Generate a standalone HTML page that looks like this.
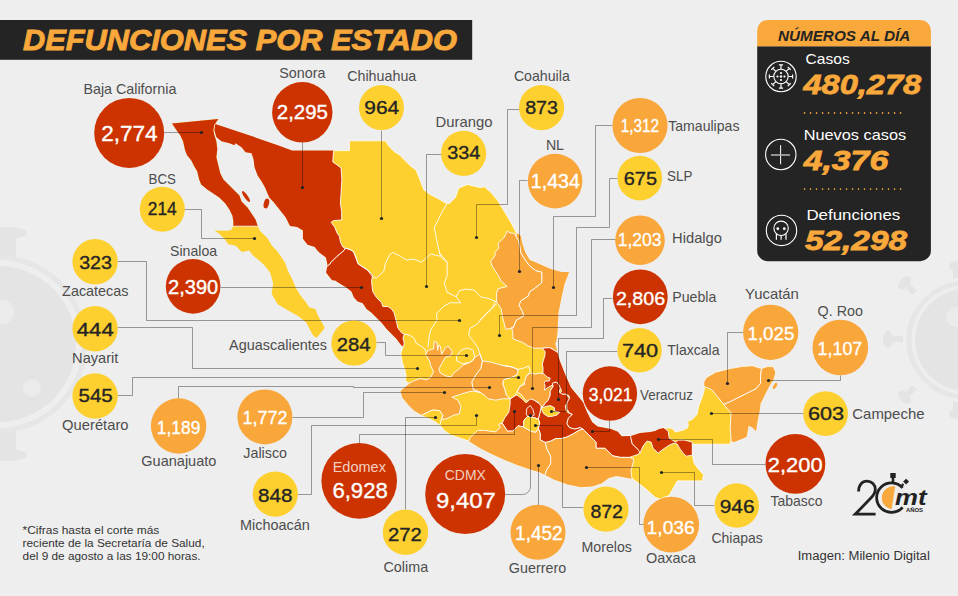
<!DOCTYPE html><html><head><meta charset="utf-8"><style>
html,body{margin:0;padding:0;background:#eeeeee;}
svg{display:block;font-family:"Liberation Sans",sans-serif;}
</style></head><body>
<svg width="958" height="596" viewBox="0 0 958 596">
<rect width="958" height="596" fill="#eeeeee"/>
<g fill="#e4e4e4" stroke="none">
<circle cx="-2" cy="344" r="78"/>
<rect x="0" y="236" width="16" height="22"/>
<ellipse cx="8" cy="233" rx="19" ry="6"/>
<rect x="0" y="430" width="16" height="22"/>
<ellipse cx="8" cy="455" rx="19" ry="6"/>
<circle cx="966" cy="340" r="51"/>
<ellipse cx="888" cy="339" rx="5" ry="9"/>
<rect x="888" y="336" width="15" height="6"/>
<g transform="rotate(45 911 289)"><ellipse cx="902" cy="289" rx="5" ry="8"/><rect x="902" y="286" width="14" height="6"/></g>
<g transform="rotate(-45 911 391)"><ellipse cx="902" cy="391" rx="5" ry="8"/><rect x="902" y="388" width="14" height="6"/></g>
<ellipse cx="957" cy="266" rx="8" ry="5"/><rect x="953" y="266" width="6" height="12"/>
<ellipse cx="957" cy="414" rx="8" ry="5"/><rect x="953" y="402" width="6" height="12"/>
</g>
<g fill="#ebebeb"><circle cx="2" cy="312" r="12"/><circle cx="32" cy="388" r="9"/><circle cx="956" cy="317" r="10"/></g>
<g fill="none" stroke="#e6e6e6">
<circle cx="-2" cy="344" r="86.5" stroke-width="5"/>
<circle cx="966" cy="340" r="57" stroke-width="5"/>
</g>
<rect x="0" y="20" width="472.2" height="39.8" fill="#242424"/>
<text x="23.0" y="49.8" font-size="30" fill="#f9a83b" font-weight="bold" font-style="italic" textLength="434.0" lengthAdjust="spacingAndGlyphs" stroke="#f9a83b" stroke-width="0.9">DEFUNCIONES POR ESTADO</text>
<defs>
<clipPath id="cm"><polygon points="215.3,124.1 250.0,135.5 280.0,146.0 292.1,150.6 333.6,150.6 349.4,150.6 349.4,140.8 385.7,140.8 388.7,146.0 394.7,152.1 400.0,155.1 402.6,158.1 410.2,165.7 416.2,170.2 419.2,177.7 423.8,189.8 429.8,194.3 438.9,198.9 446.4,203.4 449.4,203.4 455.5,197.4 458.5,188.3 467.5,184.5 473.6,186.0 480.0,187.5 484.5,186.8 492.1,193.6 498.1,201.1 502.6,208.7 507.2,216.2 511.7,223.8 516.2,232.8 520.8,235.8 522.3,243.4 525.3,252.5 529.8,260.0 535.0,262.0 540.4,264.5 550.9,269.1 561.5,272.1 569.1,272.1 564.5,284.2 561.5,297.7 558.5,312.8 557.7,327.9 557.6,331.8 556.4,341.2 555.2,343.5 556.4,348.2 557.6,352.9 559.9,361.1 562.3,367.0 564.6,372.9 566.8,378.1 570.9,387.4 577.6,395.5 583.0,402.2 587.0,412.0 590.0,418.1 592.3,422.3 597.7,426.4 604.4,427.7 611.1,429.1 617.9,431.7 621.7,436.2 630.8,436.0 640.0,433.1 650.1,432.1 655.1,431.1 659.1,429.1 664.1,428.0 670.2,428.0 673.2,429.1 675.2,432.1 679.2,431.1 683.3,430.1 687.3,428.0 688.3,425.0 687.7,422.0 689.3,420.0 691.4,420.2 696.9,414.6 698.8,405.4 702.5,396.2 704.3,389.7 704.3,382.3 705.2,379.5 706.2,377.7 715.4,372.2 730.2,368.5 741.2,366.6 752.3,365.7 761.5,368.5 767.1,366.6 772.6,366.6 775.4,372.2 773.5,379.5 768.9,386.9 765.2,394.3 760.6,403.5 759.7,410.9 757.8,420.2 756.0,431.2 752.3,427.5 748.6,425.7 746.8,436.8 743.1,438.6 733.8,442.3 731.1,441.0 730.2,444.2 692.6,444.2 692.6,455.8 694.2,463.4 698.7,469.4 703.5,474.6 702.5,480.9 677.4,480.9 669.1,495.5 660.0,499.0 655.5,497.6 646.1,489.2 635.7,480.9 632.4,478.9 627.7,477.9 616.4,476.0 608.9,477.9 601.4,483.6 592.0,486.4 580.7,487.3 567.6,484.5 554.4,479.8 545.0,475.1 539.4,472.3 530.0,469.5 517.0,465.0 504.7,460.0 492.6,454.5 480.6,448.5 468.5,440.9 459.4,437.9 450.4,434.9 444.3,430.4 439.8,425.1 435.3,421.3 429.2,418.3 421.7,415.3 414.2,410.8 408.1,404.7 402.1,397.2 400.6,391.1 409.6,383.6 405.1,380.6 406.0,376.0 405.3,371.5 402.3,362.5 400.8,353.4 403.0,346.7 400.4,344.2 396.7,339.2 391.6,334.1 386.6,329.1 381.6,322.8 376.5,317.8 371.5,312.8 366.5,309.0 362.7,303.3 357.6,301.4 353.9,297.6 351.4,291.4 346.3,287.6 340.0,283.8 335.0,280.5 332.0,280.2 326.0,272.6 327.5,265.1 325.9,257.5 319.9,253.0 316.9,250.0 314.7,247.0 307.6,244.7 302.9,238.8 302.9,230.6 297.0,227.0 290.0,225.9 285.6,217.2 279.0,209.0 273.5,202.1 269.2,197.5 265.0,187.4 261.6,181.4 257.6,175.4 254.5,167.3 253.5,159.3 251.5,153.2 245.5,152.2 241.5,147.2 235.4,143.2 234.4,145.2 229.4,143.2 221.3,141.2 216.3,137.1 214.3,130.1"/></clipPath>
<clipPath id="cp"><polygon points="172.0,123.5 218.3,119.0 214.3,125.1 213.3,130.1 214.3,135.1 216.3,141.2 217.3,149.2 216.3,157.3 218.3,165.3 220.3,173.4 223.4,179.4 229.4,185.4 235.4,191.5 239.4,195.5 241.5,201.5 247.5,207.6 251.5,213.6 255.5,219.6 257.6,225.7 259.9,230.8 267.5,238.3 272.0,245.8 277.0,251.0 281.0,256.4 285.0,262.5 288.0,271.0 292.7,280.2 295.8,287.7 300.3,295.3 306.3,302.8 309.3,307.4 315.4,308.9 318.4,316.4 324.4,327.0 324.4,328.5 316.9,337.5 315.4,337.5 312.4,334.5 306.3,322.5 298.8,316.4 288.2,310.4 277.6,304.3 271.6,293.8 273.1,283.2 270.1,272.6 264.1,265.1 259.9,260.9 252.4,254.9 249.3,250.4 241.8,251.9 235.8,245.8 228.2,244.3 225.2,239.8 219.2,233.8 214.6,230.5 227.5,230.8 231.2,230.0 233.4,225.7 233.4,221.6 232.4,215.6 229.4,209.6 225.4,203.5 219.3,197.5 213.3,193.5 207.3,189.4 201.2,184.4 199.2,179.4 197.2,171.3 194.2,166.3 191.2,160.3 187.1,155.2 185.1,150.2 183.1,141.2 180.1,135.1 177.1,131.1"/></clipPath>
</defs>
<polygon points="172.0,123.5 218.3,119.0 214.3,125.1 213.3,130.1 214.3,135.1 216.3,141.2 217.3,149.2 216.3,157.3 218.3,165.3 220.3,173.4 223.4,179.4 229.4,185.4 235.4,191.5 239.4,195.5 241.5,201.5 247.5,207.6 251.5,213.6 255.5,219.6 257.6,225.7 259.9,230.8 267.5,238.3 272.0,245.8 277.0,251.0 281.0,256.4 285.0,262.5 288.0,271.0 292.7,280.2 295.8,287.7 300.3,295.3 306.3,302.8 309.3,307.4 315.4,308.9 318.4,316.4 324.4,327.0 324.4,328.5 316.9,337.5 315.4,337.5 312.4,334.5 306.3,322.5 298.8,316.4 288.2,310.4 277.6,304.3 271.6,293.8 273.1,283.2 270.1,272.6 264.1,265.1 259.9,260.9 252.4,254.9 249.3,250.4 241.8,251.9 235.8,245.8 228.2,244.3 225.2,239.8 219.2,233.8 214.6,230.5 227.5,230.8 231.2,230.0 233.4,225.7 233.4,221.6 232.4,215.6 229.4,209.6 225.4,203.5 219.3,197.5 213.3,193.5 207.3,189.4 201.2,184.4 199.2,179.4 197.2,171.3 194.2,166.3 191.2,160.3 187.1,155.2 185.1,150.2 183.1,141.2 180.1,135.1 177.1,131.1" fill="#fdd02f"/>
<rect x="150" y="100" width="130" height="126.2" fill="#cc3300" clip-path="url(#cp)"/>
<line x1="230" y1="226.2" x2="260" y2="226.2" stroke="#fff" stroke-width="0.8" clip-path="url(#cp)"/>
<polygon points="215.3,124.1 250.0,135.5 280.0,146.0 292.1,150.6 333.6,150.6 349.4,150.6 349.4,140.8 385.7,140.8 388.7,146.0 394.7,152.1 400.0,155.1 402.6,158.1 410.2,165.7 416.2,170.2 419.2,177.7 423.8,189.8 429.8,194.3 438.9,198.9 446.4,203.4 449.4,203.4 455.5,197.4 458.5,188.3 467.5,184.5 473.6,186.0 480.0,187.5 484.5,186.8 492.1,193.6 498.1,201.1 502.6,208.7 507.2,216.2 511.7,223.8 516.2,232.8 520.8,235.8 522.3,243.4 525.3,252.5 529.8,260.0 535.0,262.0 540.4,264.5 550.9,269.1 561.5,272.1 569.1,272.1 564.5,284.2 561.5,297.7 558.5,312.8 557.7,327.9 557.6,331.8 556.4,341.2 555.2,343.5 556.4,348.2 557.6,352.9 559.9,361.1 562.3,367.0 564.6,372.9 566.8,378.1 570.9,387.4 577.6,395.5 583.0,402.2 587.0,412.0 590.0,418.1 592.3,422.3 597.7,426.4 604.4,427.7 611.1,429.1 617.9,431.7 621.7,436.2 630.8,436.0 640.0,433.1 650.1,432.1 655.1,431.1 659.1,429.1 664.1,428.0 670.2,428.0 673.2,429.1 675.2,432.1 679.2,431.1 683.3,430.1 687.3,428.0 688.3,425.0 687.7,422.0 689.3,420.0 691.4,420.2 696.9,414.6 698.8,405.4 702.5,396.2 704.3,389.7 704.3,382.3 705.2,379.5 706.2,377.7 715.4,372.2 730.2,368.5 741.2,366.6 752.3,365.7 761.5,368.5 767.1,366.6 772.6,366.6 775.4,372.2 773.5,379.5 768.9,386.9 765.2,394.3 760.6,403.5 759.7,410.9 757.8,420.2 756.0,431.2 752.3,427.5 748.6,425.7 746.8,436.8 743.1,438.6 733.8,442.3 731.1,441.0 730.2,444.2 692.6,444.2 692.6,455.8 694.2,463.4 698.7,469.4 703.5,474.6 702.5,480.9 677.4,480.9 669.1,495.5 660.0,499.0 655.5,497.6 646.1,489.2 635.7,480.9 632.4,478.9 627.7,477.9 616.4,476.0 608.9,477.9 601.4,483.6 592.0,486.4 580.7,487.3 567.6,484.5 554.4,479.8 545.0,475.1 539.4,472.3 530.0,469.5 517.0,465.0 504.7,460.0 492.6,454.5 480.6,448.5 468.5,440.9 459.4,437.9 450.4,434.9 444.3,430.4 439.8,425.1 435.3,421.3 429.2,418.3 421.7,415.3 414.2,410.8 408.1,404.7 402.1,397.2 400.6,391.1 409.6,383.6 405.1,380.6 406.0,376.0 405.3,371.5 402.3,362.5 400.8,353.4 403.0,346.7 400.4,344.2 396.7,339.2 391.6,334.1 386.6,329.1 381.6,322.8 376.5,317.8 371.5,312.8 366.5,309.0 362.7,303.3 357.6,301.4 353.9,297.6 351.4,291.4 346.3,287.6 340.0,283.8 335.0,280.5 332.0,280.2 326.0,272.6 327.5,265.1 325.9,257.5 319.9,253.0 316.9,250.0 314.7,247.0 307.6,244.7 302.9,238.8 302.9,230.6 297.0,227.0 290.0,225.9 285.6,217.2 279.0,209.0 273.5,202.1 269.2,197.5 265.0,187.4 261.6,181.4 257.6,175.4 254.5,167.3 253.5,159.3 251.5,153.2 245.5,152.2 241.5,147.2 235.4,143.2 234.4,145.2 229.4,143.2 221.3,141.2 216.3,137.1 214.3,130.1" fill="#fdd02f" stroke="#fff" stroke-width="0.8"/>
<g clip-path="url(#cm)" stroke="#fff" stroke-width="0.9" stroke-linejoin="round">
<polygon points="200.0,100.0 333.6,100.0 333.6,150.6 332.8,161.9 341.1,167.9 341.9,179.2 341.1,192.8 340.4,203.4 341.7,211.8 341.7,220.0 333.5,220.6 331.1,222.3 334.7,227.0 337.0,232.9 339.4,236.4 340.5,242.3 342.9,247.0 345.2,248.2 344.0,250.5 337.0,256.4 331.1,262.3 330.0,264.0 300.0,290.0 200.0,200.0" fill="#cc3300"/>
<polygon points="345.2,248.2 349.9,249.4 353.5,251.7 355.8,256.4 358.1,263.8 367.2,269.8 372.7,275.0 371.5,281.3 372.7,291.4 376.5,297.6 381.6,302.7 382.8,306.5 387.9,306.5 391.6,309.0 394.1,312.8 395.4,317.8 396.7,322.8 397.9,327.9 401.7,332.9 404.2,334.1 403.0,337.9 404.2,343.0 403.6,346.7 390.0,350.0 300.0,290.0 330.0,264.0 331.1,262.3 337.0,256.4 344.0,250.5" fill="#cc3300"/>
<polygon points="507.2,231.3 510.2,232.8 514.7,233.6 516.2,236.6 518.5,240.4 520.0,246.4 520.8,252.5 525.3,260.0 529.8,266.0 535.8,270.6 541.9,272.1 541.9,282.6 534.3,288.7 529.8,291.7 528.3,296.2 520.8,300.8 519.2,305.3 522.3,311.3 523.8,315.8 516.2,320.4 513.2,327.9 505.7,329.4 504.2,323.4 502.6,317.4 501.1,308.3 496.6,302.3 496.6,293.2 498.1,288.7 507.2,286.4 501.1,281.1 498.1,275.1 492.1,266.0 490.6,261.5 495.1,255.5 495.1,252.5 498.9,247.9 498.1,243.4 504.2,237.4" fill="#f9a63a"/>
<polygon points="516.2,232.8 530.0,225.0 580.0,260.0 575.0,360.0 556.4,351.7 552.9,349.4 549.4,347.6 542.3,348.2 534.1,348.2 528.2,345.9 522.3,342.3 512.9,338.8 512.9,334.1 511.8,327.0 513.2,327.9 516.2,320.4 523.8,315.8 522.3,311.3 519.2,305.3 520.8,300.8 528.3,296.2 529.8,291.7 534.3,288.7 541.9,282.6 541.9,272.1 535.8,270.6 529.8,266.0 525.3,260.0 520.8,252.5 520.0,246.4 518.5,240.4 516.2,236.6" fill="#f9a63a"/>
<polygon points="542.3,348.2 549.4,347.6 552.9,349.4 556.4,351.7 575.0,360.0 600.0,400.0 640.0,420.0 631.0,437.7 632.3,443.8 638.3,449.8 641.3,449.8 638.3,454.3 629.2,457.4 620.2,457.4 612.6,455.8 605.1,448.3 596.0,448.3 596.0,442.3 593.7,439.8 588.3,434.4 583.0,429.1 580.3,427.7 574.9,429.1 569.5,427.7 566.8,423.7 568.2,418.3 572.2,414.3 569.5,413.0 566.8,408.9 566.8,402.2 569.5,398.2 568.9,395.5 564.2,394.2 558.8,394.2 561.5,391.5 560.8,388.8 558.1,387.4 557.4,382.8 554.8,382.1 548.0,392.0 540.0,385.0 540.0,374.0 543.0,373.4 543.0,368.0 542.3,364.0 543.5,360.0 544.7,356.4 545.2,351.7" fill="#cc3300"/>
<polygon points="525.0,384.2 523.0,380.1 526.0,376.1 530.1,373.1 535.1,374.1 540.1,373.1 544.2,374.1 547.2,377.1 550.2,378.1 549.2,381.1 545.2,381.1 544.2,383.2 545.2,386.2 544.2,390.2 548.2,387.2 552.2,385.2 553.2,386.2 550.2,391.2 550.2,395.2 548.2,400.3 545.2,403.3 543.2,406.3 540.1,406.3 538.1,402.3 534.1,400.3 530.1,399.3 527.0,401.3 524.0,398.3 522.0,395.2 519.0,393.0 517.0,392.0 519.5,386.8" fill="#f9a63a"/>
<polygon points="552.2,383.2 556.2,382.1 559.3,385.2 560.3,388.2 559.3,392.2 562.3,394.2 566.3,394.2 569.3,398.3 567.3,402.3 565.3,406.3 566.3,411.3 569.3,413.4 572.2,414.3 568.2,418.3 566.8,423.7 569.5,427.7 574.9,429.1 580.3,427.7 583.0,429.1 578.9,430.4 572.2,434.4 566.8,437.1 561.5,438.5 556.1,438.5 550.7,441.1 545.4,442.5 540.0,439.8 540.3,434.0 538.3,428.5 539.7,423.1 538.3,419.1 539.7,413.7 541.0,408.3 543.2,406.3 545.2,403.3 548.2,400.3 550.2,395.2 550.2,391.2 553.2,386.2" fill="#cc3300"/>
<polygon points="510.1,398.9 514.2,396.2 516.8,394.9 522.2,398.9 526.2,403.0 530.3,398.9 534.3,400.3 538.3,403.0 541.0,405.6 541.0,408.3 539.7,413.7 538.3,419.1 534.3,417.7 527.6,416.4 524.9,419.1 523.6,421.7 523.6,427.1 518.2,425.8 512.8,431.1 507.4,431.1 502.1,423.1 504.8,417.7 508.8,412.3 510.1,404.3" fill="#cc3300"/>
<polygon points="526.9,408.3 530.3,405.6 533.0,409.7 534.3,415.0 531.6,416.4 527.6,416.4 526.2,413.7" fill="#cc3300"/>
<polygon points="524.9,419.1 527.6,416.4 534.3,417.7 538.3,419.1 539.7,423.1 538.3,428.5 535.6,432.5 530.3,431.1 523.6,427.1 523.6,421.7" fill="#fdd02f"/>
<polygon points="541.0,408.3 546.4,406.3 550.4,405.6 554.4,407.7 554.4,411.0 559.8,412.3 557.1,415.0 551.7,416.4 547.7,416.4 543.7,413.7" fill="#fdd02f"/>
<polygon points="503.4,380.1 506.1,378.8 511.5,377.4 516.8,374.8 518.2,369.4 523.6,368.1 528.9,366.0 530.3,372.1 526.2,376.1 524.9,381.5 519.5,386.8 516.8,392.2 514.2,396.2 510.1,398.9 506.1,394.9 504.8,389.5 502.8,384.2" fill="#fdd02f"/>
<polygon points="482.3,360.8 491.3,362.3 501.9,365.3 511.0,366.8 518.2,369.4 516.8,374.8 511.5,377.4 506.1,378.8 503.4,380.1 502.8,384.2 504.8,389.5 506.1,394.9 510.1,398.9 503.2,398.7 495.7,400.2 488.1,398.7 485.1,395.7 480.6,392.6 473.2,389.4 471.7,381.9 476.2,374.3 480.8,368.3" fill="#f9a63a"/>
<polygon points="425.5,354.3 428.2,350.3 433.6,348.9 434.2,341.5 436.9,342.2 437.6,350.3 438.9,344.9 440.3,346.2 441.6,354.3 445.6,347.6 448.3,346.2 452.3,351.6 451.0,355.6 445.6,357.0 441.6,363.7 438.9,369.1 440.3,373.1 445.6,375.8 451.0,377.1 453.7,373.1 459.1,369.1 463.1,365.0 467.1,363.7 472.5,361.0 475.2,357.0 480.0,354.3 482.3,360.8 480.8,368.3 476.2,374.3 471.7,381.9 473.2,389.4 480.6,392.6 473.0,391.1 468.5,391.9 460.9,394.2 451.9,397.2 453.4,397.9 457.9,400.2 460.9,406.2 459.4,413.8 453.4,415.3 447.4,418.3 441.3,419.8 442.8,415.3 439.8,410.8 433.8,410.0 430.8,410.8 421.7,415.3 400.0,410.0 395.0,390.0 404.0,386.5 408.1,383.8 413.4,381.1 420.1,378.5 426.8,379.8 430.9,377.1 433.6,371.7 430.9,366.4 429.5,361.0" fill="#f9a63a"/>
<polygon points="456.6,356.2 461.1,350.2 467.2,347.9 473.2,350.2 474.7,357.7 470.2,362.3 462.6,363.8 456.6,360.8" fill="#fdd02f"/>
<polygon points="421.7,415.3 430.8,410.8 433.8,410.0 439.8,410.8 442.8,415.3 441.3,419.8 439.8,425.1 430.0,425.0 420.0,418.0" fill="#fdd02f"/>
<polygon points="470.0,437.9 477.5,430.4 483.6,430.4 495.7,431.9 500.2,427.4 498.7,424.3 502.1,423.1 507.4,431.1 512.8,431.1 518.2,425.8 523.6,427.1 530.3,431.1 535.6,432.5 538.3,428.5 540.3,434.0 540.0,439.8 545.4,442.5 546.9,448.8 550.7,456.3 550.7,463.8 546.9,469.5 545.0,475.1 540.0,490.0 460.0,460.0" fill="#f9a63a"/>
<polygon points="545.4,442.5 550.7,441.1 556.1,438.5 561.5,438.5 566.8,437.1 572.2,434.4 578.9,430.4 583.0,429.1 588.3,434.4 593.7,439.8 596.0,442.3 596.0,448.3 605.1,448.3 612.6,455.8 620.2,457.4 629.2,457.4 634.0,459.0 632.5,465.2 631.0,470.4 631.5,475.7 633.0,482.0 600.0,500.0 545.0,485.0 545.0,475.1 546.9,469.5 550.7,463.8 550.7,456.3 546.9,448.8" fill="#f9a63a"/>
<polygon points="630.8,437.7 630.8,434.0 640.0,431.0 650.1,430.0 655.1,429.0 659.1,427.0 664.1,426.0 664.1,428.0 668.2,431.1 669.2,438.1 672.2,440.1 676.2,442.1 678.2,440.1 684.3,440.1 692.3,442.1 692.3,455.2 686.3,456.2 683.3,453.2 680.2,449.2 677.2,444.1 674.2,443.1 669.2,445.2 663.1,449.2 658.1,453.2 653.1,448.2 651.1,442.1 647.0,441.1 643.0,446.2 640.0,453.2 638.3,449.8 632.3,443.8" fill="#cc3300"/>
<polygon points="700.0,370.0 705.2,379.5 706.2,377.7 715.4,372.2 730.2,368.5 741.2,366.6 752.3,365.7 761.5,368.5 760.6,375.8 760.6,383.2 756.0,388.8 746.8,393.4 737.5,398.0 730.2,401.7 723.7,404.5 717.2,396.2 711.7,389.7 705.2,386.9 700.0,385.0" fill="#f9a63a"/>
<polygon points="761.5,368.5 767.1,366.6 772.6,366.6 790.0,360.0 790.0,450.0 730.2,446.0 731.1,440.5 730.2,427.5 731.1,412.8 723.7,404.5 730.2,401.7 737.5,398.0 746.8,393.4 756.0,388.8 760.6,383.2 760.6,375.8" fill="#f9a63a"/>
<polyline points="345.2,248.2 349.9,249.4 353.5,251.7 358.1,263.8 367.2,269.8 373.2,277.4 376.2,278.1 383.8,271.3 385.3,263.8 389.8,254.7 392.8,252.5 400.4,256.2 406.4,260.0 414.0,259.2 421.5,262.3 430.6,254.0 439.6,256.2 447.2,262.3" fill="none"/>
<polyline points="447.2,203.4 442.0,212.0 438.1,220.0 434.3,227.5 436.6,239.6 439.6,253.0 440.4,256.2" fill="none"/>
<polyline points="439.6,253.0 447.2,262.1 447.2,275.7 444.2,283.2 447.2,292.3 453.2,295.3 456.2,296.8 459.2,290.8 465.3,289.2 474.3,290.0 480.4,296.8 487.9,298.3 495.5,301.3 497.0,301.3" fill="none"/>
<polyline points="456.2,296.8 460.8,302.8 450.2,302.8 444.2,305.8 436.6,313.4 437.0,320.2 431.0,329.2 429.4,335.3 427.9,347.4" fill="none"/>
<polyline points="404.2,334.1 409.8,335.3 414.3,338.3 415.8,342.8 420.4,345.8 424.9,348.9 426.4,353.4" fill="none"/>
<polyline points="495.5,301.3 492.5,307.4 483.4,316.4 477.4,324.0 469.8,328.5 468.7,335.1 473.2,341.1 477.7,347.2 482.3,360.8" fill="none"/>
<polyline points="480.0,320.4 496.6,303.8" fill="none"/>
<polyline points="692.6,444.2 692.6,455.8" fill="none"/>
<polyline points="501.9,365.3 511.0,366.8 518.2,369.4" fill="none"/>
</g>
<g fill="#cc3300"><ellipse cx="246" cy="196.5" rx="1.8" ry="6.5" transform="rotate(-35 246 196.5)"/><ellipse cx="266.4" cy="203.5" rx="2.6" ry="5" transform="rotate(15 266.4 203.5)"/></g>
<ellipse cx="775" cy="386" rx="1.5" ry="3.5" fill="#f9a63a" transform="rotate(30 775 386)"/>
<g fill="none" stroke="#000" stroke-opacity="0.37" stroke-width="1">
<polyline points="164.5,132.5 201.5,132.5"/>
<polyline points="302.5,142.5 302.5,187.5"/>
<polyline points="381.5,130.5 381.5,218.5"/>
<polyline points="441.5,154.5 426.5,154.5 426.5,286.5"/>
<polyline points="519.5,109.5 507.5,109.5 507.5,204.5 476.5,204.5 476.5,237.5"/>
<polyline points="527.5,180.5 519.5,180.5 519.5,271.5"/>
<polyline points="612.5,125.5 595.5,125.5 595.5,216.5 553.5,216.5 553.5,287.5"/>
<polyline points="617.5,178.5 609.5,178.5 609.5,227.5 576.5,227.5 576.5,315.5 499.5,315.5 499.5,335.5"/>
<polyline points="615.5,239.5 591.5,239.5 591.5,327.5 532.5,327.5 532.5,388.5"/>
<polyline points="612.5,298.5 603.5,298.5 603.5,338.5 558.5,338.5 558.5,399.5"/>
<polyline points="617.5,351.5 566.5,351.5 566.5,411.5 551.5,411.5"/>
<polyline points="609.5,420.5 609.5,431.5 592.5,431.5"/>
<polyline points="743.5,332.5 727.5,332.5 727.5,383.5"/>
<polyline points="840.5,375.5 840.5,380.5 768.5,380.5"/>
<polyline points="803.5,413.5 711.5,413.5"/>
<polyline points="765.5,464.5 712.5,464.5 712.5,439.5 658.5,439.5"/>
<polyline points="714.5,505.5 694.5,505.5 694.5,472.5 661.5,472.5"/>
<polyline points="586.5,467.5 639.5,467.5 639.5,524.5 643.5,524.5"/>
<polyline points="583.5,507.5 562.5,507.5 562.5,425.5 535.5,425.5"/>
<polyline points="538.5,505.5 538.5,465.5"/>
<polyline points="359.5,443.5 359.5,434.5 514.5,434.5 514.5,411.5"/>
<polyline points="405.5,509.5 405.5,417.5 435.5,417.5"/>
<polyline points="297.5,494.5 311.5,494.5 311.5,425.5 476.5,425.5 476.5,415.5"/>
<polyline points="292.5,417.5 363.5,417.5 363.5,392.5 444.5,392.5"/>
<polyline points="178.5,398.5 178.5,386.5 353.5,386.5 353.5,387.5 489.5,387.5"/>
<polyline points="117.5,395.5 132.5,395.5 132.5,377.5 518.5,377.5"/>
<polyline points="117.5,327.5 192.5,327.5 192.5,368.5 417.5,368.5"/>
<polyline points="117.5,261.5 146.5,261.5 146.5,320.5 459.5,320.5"/>
<polyline points="220.5,287.5 361.5,287.5"/>
<polyline points="184.5,209.5 201.5,209.5 201.5,238.5 254.5,238.5"/>
<polyline points="376.5,342.5 385.5,342.5 385.5,355.5 466.5,355.5"/>
<path d="M505.2,494.5 H522.5 A8,8 0 0 0 530.5,486.5 V415.5"/>
</g><g fill="#1c2428">
<circle cx="201.5" cy="132.5" r="1.6"/>
<circle cx="302.5" cy="187.5" r="1.6"/>
<circle cx="381.5" cy="218.5" r="1.6"/>
<circle cx="426.5" cy="286.5" r="1.6"/>
<circle cx="476.5" cy="237.5" r="1.6"/>
<circle cx="519.5" cy="271.5" r="1.6"/>
<circle cx="553.5" cy="287.5" r="1.6"/>
<circle cx="499.5" cy="335.5" r="1.6"/>
<circle cx="532.5" cy="388.5" r="1.6"/>
<circle cx="558.5" cy="399.5" r="1.6"/>
<circle cx="551.5" cy="411.5" r="1.6"/>
<circle cx="592.5" cy="431.5" r="1.6"/>
<circle cx="727.5" cy="383.5" r="1.6"/>
<circle cx="768.5" cy="380.5" r="1.6"/>
<circle cx="711.5" cy="413.5" r="1.6"/>
<circle cx="658.5" cy="439.5" r="1.6"/>
<circle cx="661.5" cy="472.5" r="1.6"/>
<circle cx="586.5" cy="467.5" r="1.6"/>
<circle cx="535.5" cy="425.5" r="1.6"/>
<circle cx="538.5" cy="465.5" r="1.6"/>
<circle cx="514.5" cy="411.5" r="1.6"/>
<circle cx="435.5" cy="417.5" r="1.6"/>
<circle cx="476.5" cy="415.5" r="1.6"/>
<circle cx="444.5" cy="392.5" r="1.6"/>
<circle cx="489.5" cy="387.5" r="1.6"/>
<circle cx="518.5" cy="377.5" r="1.6"/>
<circle cx="417.5" cy="368.5" r="1.6"/>
<circle cx="459.5" cy="320.5" r="1.6"/>
<circle cx="361.5" cy="287.5" r="1.6"/>
<circle cx="254.5" cy="238.5" r="1.6"/>
<circle cx="466.5" cy="355.5" r="1.6"/>
<circle cx="530.5" cy="415.5" r="1.6"/>
</g>
<circle cx="129.2" cy="132.9" r="35" fill="#cc3300"/>
<text x="101.2" y="140.8" font-size="21.8" fill="#fff" font-weight="normal" font-style="normal" textLength="56.3" lengthAdjust="spacingAndGlyphs" stroke="#fff" stroke-width="0.35">2,774</text>
<circle cx="302.3" cy="112.3" r="30.2" fill="#cc3300"/>
<text x="276.8" y="119.0" font-size="19.5" fill="#fff" font-weight="normal" font-style="normal" textLength="51.1" lengthAdjust="spacingAndGlyphs" stroke="#fff" stroke-width="0.35">2,295</text>
<circle cx="381.5" cy="107.6" r="22.5" fill="#fdd02f"/>
<text x="364.3" y="114.0" font-size="18.5" fill="#242424" font-weight="normal" font-style="normal" textLength="34.9" lengthAdjust="spacingAndGlyphs" stroke="#242424" stroke-width="0.35">964</text>
<circle cx="463.6" cy="153.4" r="22.6" fill="#fdd02f"/>
<text x="447.2" y="159.4" font-size="18" fill="#242424" font-weight="normal" font-style="normal" textLength="33.2" lengthAdjust="spacingAndGlyphs" stroke="#242424" stroke-width="0.35">334</text>
<circle cx="541.6" cy="107.6" r="22.6" fill="#fdd02f"/>
<text x="525.2" y="114.1" font-size="18" fill="#242424" font-weight="normal" font-style="normal" textLength="32.8" lengthAdjust="spacingAndGlyphs" stroke="#242424" stroke-width="0.35">873</text>
<circle cx="555.1" cy="181.1" r="27.3" fill="#f9a63a"/>
<text x="530.8" y="188.4" font-size="19.5" fill="#fff" font-weight="normal" font-style="normal" textLength="49.1" lengthAdjust="spacingAndGlyphs" stroke="#fff" stroke-width="0.35">1,434</text>
<circle cx="640" cy="125.5" r="27.6" fill="#f9a63a"/>
<text x="620.8" y="132.3" font-size="18.5" fill="#fff" font-weight="normal" font-style="normal" textLength="38.3" lengthAdjust="spacingAndGlyphs" stroke="#fff" stroke-width="0.35">1,312</text>
<circle cx="639.8" cy="178.1" r="22.3" fill="#fdd02f"/>
<text x="623.8" y="185.1" font-size="18.5" fill="#242424" font-weight="normal" font-style="normal" textLength="33.2" lengthAdjust="spacingAndGlyphs" stroke="#242424" stroke-width="0.35">675</text>
<circle cx="640" cy="240.2" r="24.8" fill="#f9a63a"/>
<text x="617.8" y="246.4" font-size="19" fill="#fff" font-weight="normal" font-style="normal" textLength="43.7" lengthAdjust="spacingAndGlyphs" stroke="#fff" stroke-width="0.35">1,203</text>
<circle cx="640.3" cy="296.8" r="27.4" fill="#cc3300"/>
<text x="615.9" y="304.7" font-size="19" fill="#fff" font-weight="normal" font-style="normal" textLength="49.2" lengthAdjust="spacingAndGlyphs" stroke="#fff" stroke-width="0.35">2,806</text>
<circle cx="639.6" cy="350.2" r="22.2" fill="#fdd02f"/>
<text x="621.9" y="357.3" font-size="18.5" fill="#242424" font-weight="normal" font-style="normal" textLength="36.3" lengthAdjust="spacingAndGlyphs" stroke="#242424" stroke-width="0.35">740</text>
<circle cx="609.9" cy="393.5" r="27.2" fill="#cc3300"/>
<text x="588.7" y="401.3" font-size="19" fill="#fff" font-weight="normal" font-style="normal" textLength="43.8" lengthAdjust="spacingAndGlyphs" stroke="#fff" stroke-width="0.35">3,021</text>
<circle cx="770.7" cy="332.3" r="27.6" fill="#f9a63a"/>
<text x="747.5" y="339.5" font-size="18.5" fill="#fff" font-weight="normal" font-style="normal" textLength="46.8" lengthAdjust="spacingAndGlyphs" stroke="#fff" stroke-width="0.35">1,025</text>
<circle cx="840.3" cy="347.5" r="27.8" fill="#f9a63a"/>
<text x="817.6" y="354.9" font-size="18.5" fill="#fff" font-weight="normal" font-style="normal" textLength="44.7" lengthAdjust="spacingAndGlyphs" stroke="#fff" stroke-width="0.35">1,107</text>
<circle cx="825.6" cy="413.6" r="22.4" fill="#fdd02f"/>
<text x="807.9" y="420.4" font-size="18.5" fill="#242424" font-weight="normal" font-style="normal" textLength="36.3" lengthAdjust="spacingAndGlyphs" stroke="#242424" stroke-width="0.35">603</text>
<circle cx="795.4" cy="463.8" r="29.9" fill="#cc3300"/>
<text x="767.8" y="471.5" font-size="20" fill="#fff" font-weight="normal" font-style="normal" textLength="54.8" lengthAdjust="spacingAndGlyphs" stroke="#fff" stroke-width="0.35">2,200</text>
<circle cx="736.8" cy="505.5" r="22.2" fill="#fdd02f"/>
<text x="719.7" y="513.0" font-size="18.5" fill="#242424" font-weight="normal" font-style="normal" textLength="34.8" lengthAdjust="spacingAndGlyphs" stroke="#242424" stroke-width="0.35">946</text>
<circle cx="671.2" cy="524.6" r="27.9" fill="#f9a63a"/>
<text x="646.6" y="533.5" font-size="19" fill="#fff" font-weight="normal" font-style="normal" textLength="48.2" lengthAdjust="spacingAndGlyphs" stroke="#fff" stroke-width="0.35">1,036</text>
<circle cx="606" cy="509.2" r="22.6" fill="#fdd02f"/>
<text x="590.4" y="517.6" font-size="18.5" fill="#242424" font-weight="normal" font-style="normal" textLength="32.6" lengthAdjust="spacingAndGlyphs" stroke="#242424" stroke-width="0.35">872</text>
<circle cx="538" cy="532.3" r="27.5" fill="#f9a63a"/>
<text x="515.1" y="540.0" font-size="19.5" fill="#fff" font-weight="normal" font-style="normal" textLength="47.6" lengthAdjust="spacingAndGlyphs" stroke="#fff" stroke-width="0.35">1,452</text>
<circle cx="465.2" cy="494" r="40" fill="#cc3300"/>
<text x="436.0" y="508.0" font-size="22.2" fill="#fff" font-weight="normal" font-style="normal" textLength="59.7" lengthAdjust="spacingAndGlyphs" stroke="#fff" stroke-width="0.35">9,407</text>
<circle cx="359.2" cy="480.9" r="37.8" fill="#cc3300"/>
<text x="332.4" y="497.6" font-size="22.2" fill="#fff" font-weight="normal" font-style="normal" textLength="55.4" lengthAdjust="spacingAndGlyphs" stroke="#fff" stroke-width="0.35">6,928</text>
<circle cx="405.5" cy="532.3" r="22.7" fill="#fdd02f"/>
<text x="388.1" y="540.7" font-size="18.5" fill="#242424" font-weight="normal" font-style="normal" textLength="33.7" lengthAdjust="spacingAndGlyphs" stroke="#242424" stroke-width="0.35">272</text>
<circle cx="275.3" cy="494.1" r="22.6" fill="#fdd02f"/>
<text x="258.0" y="502.1" font-size="18.5" fill="#242424" font-weight="normal" font-style="normal" textLength="34.4" lengthAdjust="spacingAndGlyphs" stroke="#242424" stroke-width="0.35">848</text>
<circle cx="264.9" cy="416.9" r="27.5" fill="#f9a63a"/>
<text x="242.5" y="423.7" font-size="19" fill="#fff" font-weight="normal" font-style="normal" textLength="44.9" lengthAdjust="spacingAndGlyphs" stroke="#fff" stroke-width="0.35">1,772</text>
<circle cx="178.6" cy="426" r="27.7" fill="#f9a63a"/>
<text x="156.8" y="433.7" font-size="19" fill="#fff" font-weight="normal" font-style="normal" textLength="43.5" lengthAdjust="spacingAndGlyphs" stroke="#fff" stroke-width="0.35">1,189</text>
<circle cx="95.1" cy="396" r="22.7" fill="#fdd02f"/>
<text x="78.5" y="402.1" font-size="18.5" fill="#242424" font-weight="normal" font-style="normal" textLength="34.2" lengthAdjust="spacingAndGlyphs" stroke="#242424" stroke-width="0.35">545</text>
<circle cx="95.1" cy="328.8" r="22.7" fill="#fdd02f"/>
<text x="76.8" y="336.3" font-size="18.5" fill="#242424" font-weight="normal" font-style="normal" textLength="36.9" lengthAdjust="spacingAndGlyphs" stroke="#242424" stroke-width="0.35">444</text>
<circle cx="95.1" cy="261.7" r="22.7" fill="#fdd02f"/>
<text x="79.2" y="268.6" font-size="18.5" fill="#242424" font-weight="normal" font-style="normal" textLength="32.8" lengthAdjust="spacingAndGlyphs" stroke="#242424" stroke-width="0.35">323</text>
<circle cx="193.1" cy="286.4" r="27.3" fill="#cc3300"/>
<text x="168.0" y="293.6" font-size="19.5" fill="#fff" font-weight="normal" font-style="normal" textLength="50.3" lengthAdjust="spacingAndGlyphs" stroke="#fff" stroke-width="0.35">2,390</text>
<circle cx="162.3" cy="209.2" r="22.5" fill="#fdd02f"/>
<text x="147.8" y="215.4" font-size="18.5" fill="#242424" font-weight="normal" font-style="normal" textLength="28.9" lengthAdjust="spacingAndGlyphs" stroke="#242424" stroke-width="0.35">214</text>
<circle cx="353.9" cy="343" r="22.6" fill="#fdd02f"/>
<text x="336.8" y="350.6" font-size="18.5" fill="#242424" font-weight="normal" font-style="normal" textLength="33.8" lengthAdjust="spacingAndGlyphs" stroke="#242424" stroke-width="0.35">284</text>
<text x="332.7" y="471.8" font-size="14" fill="#f4cfc2" font-weight="normal" font-style="normal" textLength="53.2" lengthAdjust="spacingAndGlyphs">Edomex</text>
<text x="444.8" y="480.1" font-size="14" fill="#f4cfc2" font-weight="normal" font-style="normal" textLength="41.0" lengthAdjust="spacingAndGlyphs">CDMX</text>
<text x="83.4" y="94.3" font-size="14.3" fill="#4d4d4d" font-weight="normal" font-style="normal" textLength="93.0" lengthAdjust="spacingAndGlyphs">Baja California</text>
<text x="279.3" y="77.6" font-size="14.3" fill="#4d4d4d" font-weight="normal" font-style="normal" textLength="46.1" lengthAdjust="spacingAndGlyphs">Sonora</text>
<text x="347.2" y="81.0" font-size="14.3" fill="#4d4d4d" font-weight="normal" font-style="normal" textLength="69.1" lengthAdjust="spacingAndGlyphs">Chihuahua</text>
<text x="435.6" y="127.2" font-size="14.3" fill="#4d4d4d" font-weight="normal" font-style="normal" textLength="56.9" lengthAdjust="spacingAndGlyphs">Durango</text>
<text x="513.9" y="80.9" font-size="14.3" fill="#4d4d4d" font-weight="normal" font-style="normal" textLength="55.9" lengthAdjust="spacingAndGlyphs">Coahuila</text>
<text x="545.9" y="149.9" font-size="14.3" fill="#4d4d4d" font-weight="normal" font-style="normal" textLength="18.1" lengthAdjust="spacingAndGlyphs">NL</text>
<text x="668.2" y="131.4" font-size="14.3" fill="#4d4d4d" font-weight="normal" font-style="normal" textLength="71.3" lengthAdjust="spacingAndGlyphs">Tamaulipas</text>
<text x="667.0" y="181.2" font-size="14.3" fill="#4d4d4d" font-weight="normal" font-style="normal" textLength="25.4" lengthAdjust="spacingAndGlyphs">SLP</text>
<text x="672.1" y="243.4" font-size="14.3" fill="#4d4d4d" font-weight="normal" font-style="normal" textLength="49.9" lengthAdjust="spacingAndGlyphs">Hidalgo</text>
<text x="672.3" y="302.3" font-size="14.3" fill="#4d4d4d" font-weight="normal" font-style="normal" textLength="44.1" lengthAdjust="spacingAndGlyphs">Puebla</text>
<text x="667.2" y="355.1" font-size="14.3" fill="#4d4d4d" font-weight="normal" font-style="normal" textLength="52.3" lengthAdjust="spacingAndGlyphs">Tlaxcala</text>
<text x="640.0" y="400.4" font-size="14.3" fill="#4d4d4d" font-weight="normal" font-style="normal" textLength="52.9" lengthAdjust="spacingAndGlyphs">Veracruz</text>
<text x="745.1" y="298.7" font-size="14.3" fill="#4d4d4d" font-weight="normal" font-style="normal" textLength="53.8" lengthAdjust="spacingAndGlyphs">Yucatán</text>
<text x="817.6" y="316.2" font-size="14.3" fill="#4d4d4d" font-weight="normal" font-style="normal" textLength="45.3" lengthAdjust="spacingAndGlyphs">Q. Roo</text>
<text x="852.3" y="418.9" font-size="14.3" fill="#4d4d4d" font-weight="normal" font-style="normal" textLength="72.2" lengthAdjust="spacingAndGlyphs">Campeche</text>
<text x="770.5" y="506.3" font-size="14.3" fill="#4d4d4d" font-weight="normal" font-style="normal" textLength="52.1" lengthAdjust="spacingAndGlyphs">Tabasco</text>
<text x="711.4" y="542.8" font-size="14.3" fill="#4d4d4d" font-weight="normal" font-style="normal" textLength="51.4" lengthAdjust="spacingAndGlyphs">Chiapas</text>
<text x="646.0" y="562.7" font-size="14.3" fill="#4d4d4d" font-weight="normal" font-style="normal" textLength="49.8" lengthAdjust="spacingAndGlyphs">Oaxaca</text>
<text x="581.5" y="552.0" font-size="14.3" fill="#4d4d4d" font-weight="normal" font-style="normal" textLength="50.4" lengthAdjust="spacingAndGlyphs">Morelos</text>
<text x="508.8" y="572.6" font-size="14.3" fill="#4d4d4d" font-weight="normal" font-style="normal" textLength="57.4" lengthAdjust="spacingAndGlyphs">Guerrero</text>
<text x="383.5" y="571.5" font-size="14.3" fill="#4d4d4d" font-weight="normal" font-style="normal" textLength="44.7" lengthAdjust="spacingAndGlyphs">Colima</text>
<text x="240.1" y="529.8" font-size="14.3" fill="#4d4d4d" font-weight="normal" font-style="normal" textLength="69.8" lengthAdjust="spacingAndGlyphs">Michoacán</text>
<text x="243.3" y="457.9" font-size="14.3" fill="#4d4d4d" font-weight="normal" font-style="normal" textLength="43.7" lengthAdjust="spacingAndGlyphs">Jalisco</text>
<text x="141.3" y="466.4" font-size="14.3" fill="#4d4d4d" font-weight="normal" font-style="normal" textLength="75.1" lengthAdjust="spacingAndGlyphs">Guanajuato</text>
<text x="62.1" y="430.1" font-size="14.3" fill="#4d4d4d" font-weight="normal" font-style="normal" textLength="66.4" lengthAdjust="spacingAndGlyphs">Querétaro</text>
<text x="72.1" y="362.9" font-size="14.3" fill="#4d4d4d" font-weight="normal" font-style="normal" textLength="46.3" lengthAdjust="spacingAndGlyphs">Nayarit</text>
<text x="62.1" y="296.4" font-size="14.3" fill="#4d4d4d" font-weight="normal" font-style="normal" textLength="66.4" lengthAdjust="spacingAndGlyphs">Zacatecas</text>
<text x="170.0" y="256.2" font-size="14.3" fill="#4d4d4d" font-weight="normal" font-style="normal" textLength="47.1" lengthAdjust="spacingAndGlyphs">Sinaloa</text>
<text x="148.6" y="183.5" font-size="14.3" fill="#4d4d4d" font-weight="normal" font-style="normal" textLength="27.4" lengthAdjust="spacingAndGlyphs">BCS</text>
<text x="229.1" y="350.2" font-size="14.3" fill="#4d4d4d" font-weight="normal" font-style="normal" textLength="98.0" lengthAdjust="spacingAndGlyphs">Aguascalientes</text>
<g>
<path d="M757.2,46.2 H930.9 V250.7 a10.5,10.5 0 0 1 -10.5,10.5 H767.7 a10.5,10.5 0 0 1 -10.5,-10.5 Z" fill="#242424"/>
<path d="M757.2,46.2 V30.4 a10.5,10.5 0 0 1 10.5,-10.5 H920.4 a10.5,10.5 0 0 1 10.5,10.5 V46.2 Z" fill="#f9a83b"/>
</g>
<text x="777.9" y="40.5" font-size="14" fill="#242424" font-weight="bold" font-style="italic" textLength="132.4" lengthAdjust="spacingAndGlyphs">NÚMEROS AL DÍA</text>
<text x="805.6" y="64.1" font-size="14.5" fill="#fff" font-weight="normal" font-style="normal" textLength="44.1" lengthAdjust="spacingAndGlyphs">Casos</text>
<text x="803.4" y="94.0" font-size="28" fill="#f9a83b" font-weight="bold" font-style="italic" textLength="117.8" lengthAdjust="spacingAndGlyphs" stroke="#f9a83b" stroke-width="0.8">480,278</text>
<text x="803.7" y="140.0" font-size="14.5" fill="#fff" font-weight="normal" font-style="normal" textLength="102.5" lengthAdjust="spacingAndGlyphs">Nuevos casos</text>
<text x="803.7" y="169.6" font-size="28" fill="#f9a83b" font-weight="bold" font-style="italic" textLength="84.5" lengthAdjust="spacingAndGlyphs" stroke="#f9a83b" stroke-width="0.8">4,376</text>
<text x="806.4" y="219.5" font-size="14.5" fill="#fff" font-weight="normal" font-style="normal" textLength="93.9" lengthAdjust="spacingAndGlyphs">Defunciones</text>
<text x="805.0" y="249.6" font-size="28" fill="#f9a83b" font-weight="bold" font-style="italic" textLength="102.0" lengthAdjust="spacingAndGlyphs" stroke="#f9a83b" stroke-width="0.8">52,298</text>
<g stroke="#e09a3a" stroke-width="1.8" stroke-dasharray="1.3 4.7" fill="none">
<line x1="803.9" y1="113" x2="902" y2="113"/><line x1="803.9" y1="189.2" x2="902" y2="189.2"/></g>
<g fill="none" stroke="#fff" stroke-width="1.1">
<circle cx="781" cy="76.5" r="15.2"/>
<circle cx="780.8" cy="154.5" r="15.2"/>
<circle cx="781.5" cy="230.4" r="15.2"/>
<circle cx="781" cy="76.5" r="7.2"/>
<path d="M788.30,76.50 L792.60,76.50 M792.60,78.60 L792.60,74.40 M786.16,81.66 L789.20,84.70 M787.72,86.19 L790.69,83.22 M781.00,83.80 L781.00,88.10 M778.90,88.10 L783.10,88.10 M775.84,81.66 L772.80,84.70 M771.31,83.22 L774.28,86.19 M773.70,76.50 L769.40,76.50 M769.40,74.40 L769.40,78.60 M775.84,71.34 L772.80,68.30 M774.28,66.81 L771.31,69.78 M781.00,69.20 L781.00,64.90 M783.10,64.90 L778.90,64.90 M786.16,71.34 L789.20,68.30 M790.69,69.78 L787.72,66.81" stroke-width="1.2"/>
<line x1="780.6" y1="145.2" x2="780.6" y2="164.3" stroke-width="1"/>
<circle cx="781.1" cy="228.3" r="7.2"/>
<path d="M776.4,234 V239.8 M781.1,235.3 V239.8 M786,234 V239.8" stroke-width="1.2"/>
</g>
<line x1="770.9" y1="155" x2="790.1" y2="155" stroke="#b0b0b0" stroke-width="1.6"/>
<g fill="#fff"><circle cx="781" cy="76.5" r="1.2"/><circle cx="781" cy="73" r="1.1"/><circle cx="781" cy="80" r="1.1"/><circle cx="777.5" cy="76.5" r="1.1"/><circle cx="784.5" cy="76.5" r="1.1"/>
<circle cx="777.8" cy="228.7" r="1.4"/><circle cx="784.3" cy="228.7" r="1.4"/></g>
<text x="22.6" y="533.7" font-size="11.5" fill="#333" font-weight="normal" font-style="normal" textLength="136.7" lengthAdjust="spacingAndGlyphs">*Cifras hasta el corte más</text>
<text x="22.6" y="546.7" font-size="11.5" fill="#333" font-weight="normal" font-style="normal" textLength="182.1" lengthAdjust="spacingAndGlyphs">reciente de la Secretaría de Salud,</text>
<text x="22.6" y="560.0" font-size="11.5" fill="#333" font-weight="normal" font-style="normal" textLength="178.0" lengthAdjust="spacingAndGlyphs">del 9 de agosto a las 19:00 horas.</text>
<text x="797.7" y="560.1" font-size="12" fill="#333" font-weight="normal" font-style="normal" textLength="132.1" lengthAdjust="spacingAndGlyphs">Imagen: Milenio Digital</text>
<g>
<path d="M858.6,491.5 C858.6,485 862.2,481.2 866.9,481.2 C871.8,481.2 875.3,484.8 875.3,489.5 C875.3,493 873.4,495.6 870.4,498.6 L855.2,514.2 H875.6" fill="none" stroke="#222" stroke-width="2.8" stroke-linejoin="miter"/>
<path d="M902.6,487.9 A14.8,14.8 0 1 0 902.6,507.3" fill="none" stroke="#222" stroke-width="2.8"/>
<path d="M895.2,486.3 L891.6,509.2 A11.5,11.5 0 0 1 895.2,486.3 Z" fill="#f9a83b"/>
<rect x="890.3" y="473" width="5.4" height="5" fill="#222"/>
<rect x="891.7" y="477" width="2.6" height="6" fill="#222"/>
<rect x="904" y="479.5" width="4.2" height="4.2" fill="#222" transform="rotate(45 906.1 481.6)"/>
<path d="M903.5,484 L901,486.5" stroke="#222" stroke-width="2.2"/>
<text x="895" y="504.7" font-size="22" font-weight="bold" font-style="italic" fill="#222" textLength="31.5" lengthAdjust="spacingAndGlyphs">mt</text>
<text x="906" y="512.4" font-size="5.6" font-weight="bold" fill="#222" textLength="17" lengthAdjust="spacingAndGlyphs">AÑOS</text>
</g>
</svg></body></html>
